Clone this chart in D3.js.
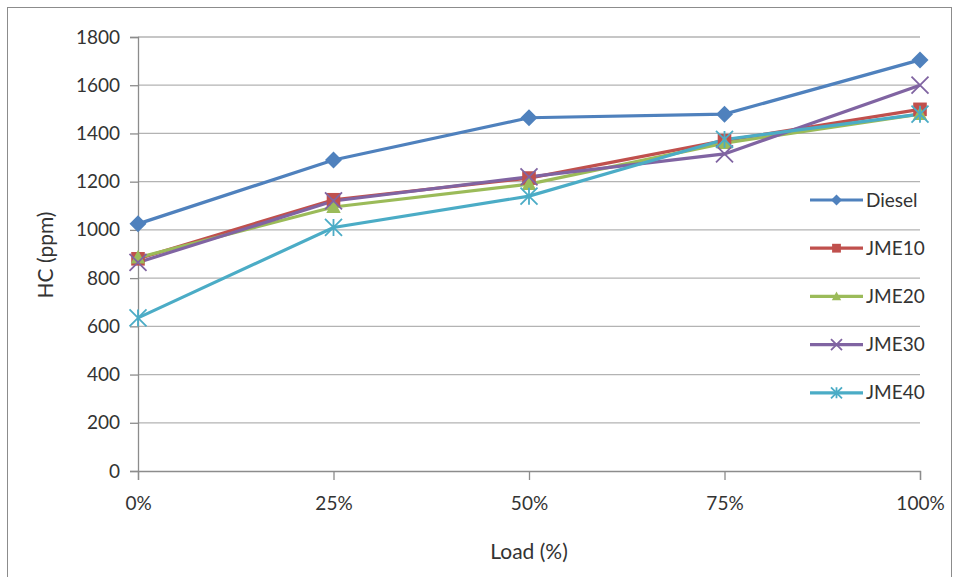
<!DOCTYPE html>
<html>
<head>
<meta charset="utf-8">
<script src="https://cdn.jsdelivr.net/npm/d3@7"></script>
<style>
  body { margin: 0; background: #fff; }
  text { font-family: Lato, "Open Sans", sans-serif; fill: #333; }
</style>
</head>
<body>
<div id="chart"></div>
<script>
// categories and series (HC in ppm)
var loads = ["0%", "25%", "50%", "75%", "100%"];
var diesel = [1025, 1290, 1465, 1480, 1705];
var jme10 = [880, 1125, 1215, 1370, 1500];
var jme20 = [885, 1095, 1190, 1360, 1480];
var jme30 = [865, 1120, 1220, 1315, 1600];
var jme40 = [635, 1010, 1140, 1375, 1480];
var yTicks = [0, 200, 400, 600, 800, 1000, 1200, 1400, 1600, 1800];

var series = [
    { name: "Diesel", values: diesel, color: "#4F81BD", marker: "diamond" },
    { name: "JME10", values: jme10, color: "#C0504D", marker: "square" },
    { name: "JME20", values: jme20, color: "#9BBB59", marker: "triangle" },
    { name: "JME30", values: jme30, color: "#8064A2", marker: "x" },
    { name: "JME40", values: jme40, color: "#4BACC6", marker: "star" }
];

var svgWidth = 955;
var svgHeight = 577;
var margin = { top: 37, right: 35, bottom: 106, left: 138 };
var width = svgWidth - margin.left - margin.right;
var height = svgHeight - margin.top - margin.bottom;

var svg = d3.select("#chart")
    .append("svg")
    .attr("width", svgWidth)
    .attr("height", svgHeight);

// outer chart border
svg.append("rect")
    .attr("x", 7.5).attr("y", 7.5)
    .attr("width", 944).attr("height", 580)
    .attr("fill", "none")
    .attr("stroke", "#8c8c8c");

var chartGroup = svg.append("g")
    .attr("transform", `translate(${margin.left}, ${margin.top})`);

var xScale = d3.scalePoint()
    .domain(loads)
    .range([0, width]);

var yScale = d3.scaleLinear()
    .domain([0, 1800])
    .range([height, 0]);

// gridlines
chartGroup.selectAll(".grid")
    .data(yTicks.slice(1))
    .enter()
    .append("line")
    .attr("x1", 0).attr("x2", width)
    .attr("y1", d => yScale(d)).attr("y2", d => yScale(d))
    .attr("stroke", "#b3b3b3")
    .attr("stroke-width", 1.3);

// axes
var leftAxis = d3.axisLeft(yScale).tickValues(yTicks).tickFormat(d3.format("d"))
    .tickSize(8).tickPadding(10);
var bottomAxis = d3.axisBottom(xScale).tickSize(9).tickPadding(17);

var yAxisG = chartGroup.append("g").call(leftAxis);
var xAxisG = chartGroup.append("g")
    .attr("transform", `translate(0, ${height})`)
    .call(bottomAxis);

[yAxisG, xAxisG].forEach(function(g) {
    g.select(".domain").attr("stroke", "#8c8c8c").attr("stroke-width", 1.3);
    g.selectAll(".tick line").attr("stroke", "#8c8c8c").attr("stroke-width", 1.3);
    g.selectAll(".tick text")
        .attr("font-size", "19px")
        .attr("fill", "#333")
        .attr("font-family", "Lato, sans-serif");
});

// axis titles
svg.append("text")
    .attr("x", margin.left + width / 2)
    .attr("y", 559)
    .attr("text-anchor", "middle")
    .attr("font-size", "21px")
    .text("Load (%)");

svg.append("text")
    .attr("transform", "rotate(-90)")
    .attr("x", -255)
    .attr("y", 53)
    .attr("text-anchor", "middle")
    .attr("font-size", "21px")
    .text("HC (ppm)");

// marker drawing
function drawMarker(g, type, color, s) {
    if (type === "diamond") {
        g.append("path")
            .attr("d", `M0,${-s} L${s},0 L0,${s} L${-s},0 Z`)
            .attr("fill", color);
    } else if (type === "square") {
        g.append("rect")
            .attr("x", -s * 0.8).attr("y", -s * 0.8)
            .attr("width", s * 1.6).attr("height", s * 1.6)
            .attr("fill", color);
    } else if (type === "triangle") {
        g.append("path")
            .attr("d", `M0,${-s * 0.9} L${s * 0.85},${s * 0.7} L${-s * 0.85},${s * 0.7} Z`)
            .attr("fill", color);
    } else if (type === "x") {
        g.append("path")
            .attr("d", `M${-s},${-s} L${s},${s} M${-s},${s} L${s},${-s}`)
            .attr("stroke", color).attr("stroke-width", 1.8);
    } else if (type === "star") {
        g.append("path")
            .attr("d", `M${-s},${-s} L${s},${s} M${-s},${s} L${s},${-s} M0,${-s} L0,${s}`)
            .attr("stroke", color).attr("stroke-width", 1.8);
    }
}

var line = d3.line()
    .x((d, i) => xScale(loads[i]))
    .y(d => yScale(d));

series.forEach(function(s) {
    chartGroup.append("path")
        .datum(s.values)
        .attr("d", line)
        .attr("fill", "none")
        .attr("stroke", s.color)
        .attr("stroke-width", 3.2);
});

series.forEach(function(s) {
    s.values.forEach(function(v, i) {
        var g = chartGroup.append("g")
            .attr("transform", `translate(${xScale(loads[i])}, ${yScale(v)})`);
        drawMarker(g, s.marker, s.color, 8.5);
    });
});

// legend
var legend = svg.append("g")
    .attr("transform", "translate(810, 200)");

series.forEach(function(s, i) {
    var item = legend.append("g")
        .attr("transform", `translate(0, ${i * 48.2})`);
    item.append("line")
        .attr("x1", 0).attr("x2", 53)
        .attr("y1", 0).attr("y2", 0)
        .attr("stroke", s.color)
        .attr("stroke-width", 3.2);
    var m = item.append("g").attr("transform", "translate(26.5, 0)");
    drawMarker(m, s.marker, s.color, 5.5);
    item.append("text")
        .attr("x", 56)
        .attr("y", 0)
        .attr("dy", "0.35em")
        .attr("font-size", "19px")
        .text(s.name);
});
</script>
</body>
</html>
